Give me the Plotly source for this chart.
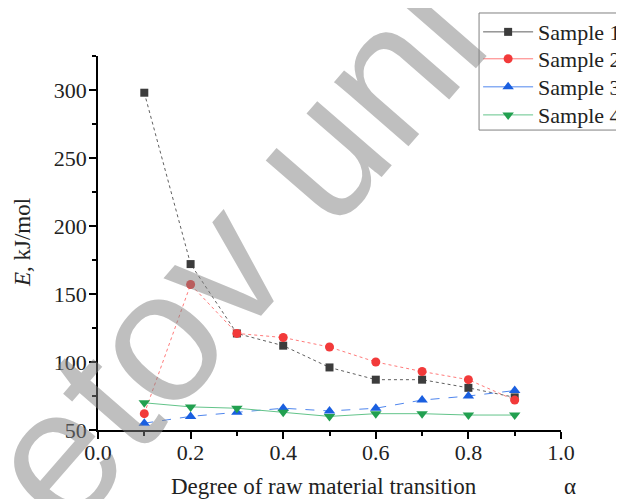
import plotly.graph_objects as go

alpha = [0.1, 0.2, 0.3, 0.4, 0.5, 0.6, 0.7, 0.8, 0.9]
sample1 = [298, 172, 121, 112, 96, 87, 87, 81, 74]
sample2 = [62, 157, 121, 118, 111, 100, 93, 87, 72]
sample3 = [55, 60, 63, 66, 64, 66, 72, 75, 79]
sample4 = [70, 67, 66, 63, 60, 62, 62, 61, 61]
names = ["Sample 1", "Sample 2", "Sample 3", "Sample 4"]

SERIF = "Liberation Serif, Times New Roman, serif"

series = [
    (sample1, "#3c3c3c", "#606060", "square", "dot", 8),
    (sample2, "#f23a3a", "#ff7a7a", "circle", "dot", 9),
    (sample3, "#1a5fe0", "#4f86ee", "triangle-up", "dash", 10),
    (sample4, "#22a050", "#63c48a", "triangle-down", "solid", 10),
]

fig = go.Figure()
for name, (vals, mcol, lcol, sym, dash, size) in zip(names, series):
    fig.add_trace(go.Scatter(
        x=alpha, y=vals, name=name, mode="lines+markers", showlegend=False,
        line=dict(color=lcol, width=1, dash=dash),
        marker=dict(symbol=sym, color=mcol, size=size),
    ))

# legend entries (solid line samples, as in the original legend), one row each
legend_ids = ["legend", "legend2", "legend3", "legend4"]
row_y = [1.064, 0.992, 0.917, 0.842]
for lid, name, (vals, mcol, lcol, sym, dash, size) in zip(legend_ids, names, series):
    fig.add_trace(go.Scatter(
        x=[None], y=[None], name=name, mode="lines+markers", legend=lid,
        line=dict(color=lcol, width=1),
        marker=dict(symbol=sym, color=mcol, size=size),
    ))

axis_common = dict(
    showline=True, linecolor="#000", linewidth=1.5, mirror=False,
    ticks="outside", ticklen=7, tickwidth=1.5, tickcolor="#000",
    showgrid=False, zeroline=False,
    tickfont=dict(family=SERIF, size=22, color="#222"),
)

fig.update_xaxes(range=[0, 1], dtick=0.2, tickformat=".1f", ticklabelstandoff=-5,
                 minor=dict(dtick=0.1, ticks="outside", ticklen=4, tickwidth=1.5, tickcolor="#000"),
                 **axis_common)
fig.update_yaxes(range=[50, 325], tick0=50, dtick=50, ticklabelstandoff=-2,
                 minor=dict(dtick=25, ticks="outside", ticklen=4, tickwidth=1.5, tickcolor="#000"),
                 **axis_common)

legend_style = dict(xanchor="left", yanchor="middle", x=0.821,
                    bgcolor="rgba(0,0,0,0)", borderwidth=0,
                    font=dict(family=SERIF, size=22, color="#222"),
                    itemwidth=50)

layout_legends = {lid: dict(y=y, **legend_style) for lid, y in zip(legend_ids, row_y)}

fig.update_layout(
    width=616, height=491,
    margin=dict(l=90, r=63, t=48, b=69, autoexpand=False),
    paper_bgcolor="white", plot_bgcolor="white",
    showlegend=True,
    **layout_legends,
    shapes=[dict(type="rect", xref="paper", yref="paper",
                 x0=0.823, x1=1.2, y0=0.802, y1=1.115,
                 line=dict(color="#808080", width=1), fillcolor="white", layer="below")],
    annotations=[
        dict(text="Degree of raw material transition", xref="paper", yref="paper",
             x=0.488, y=-0.152, xanchor="center", yanchor="middle", showarrow=False,
             font=dict(family=SERIF, size=23, color="#222")),
        dict(text="α", xref="paper", yref="paper", x=1.019, y=-0.152,
             xanchor="center", yanchor="middle", showarrow=False,
             font=dict(family=SERIF, size=23, color="#222")),
        dict(text="<i>E</i>, kJ/mol", xref="paper", yref="paper", x=-0.164, y=0.5,
             xanchor="center", yanchor="middle",
             textangle=-90, showarrow=False,
             font=dict(family=SERIF, size=23, color="#222")),
        dict(text="etov uni", xref="paper", yref="paper", x=0.29, y=0.48,
             xanchor="center", yanchor="middle",
             textangle=-49, showarrow=False,
             font=dict(family="Liberation Sans, Arial, sans-serif", size=186,
                       color="rgba(128,128,128,0.5)")),
    ],
)

fig.write_html("out.html")
